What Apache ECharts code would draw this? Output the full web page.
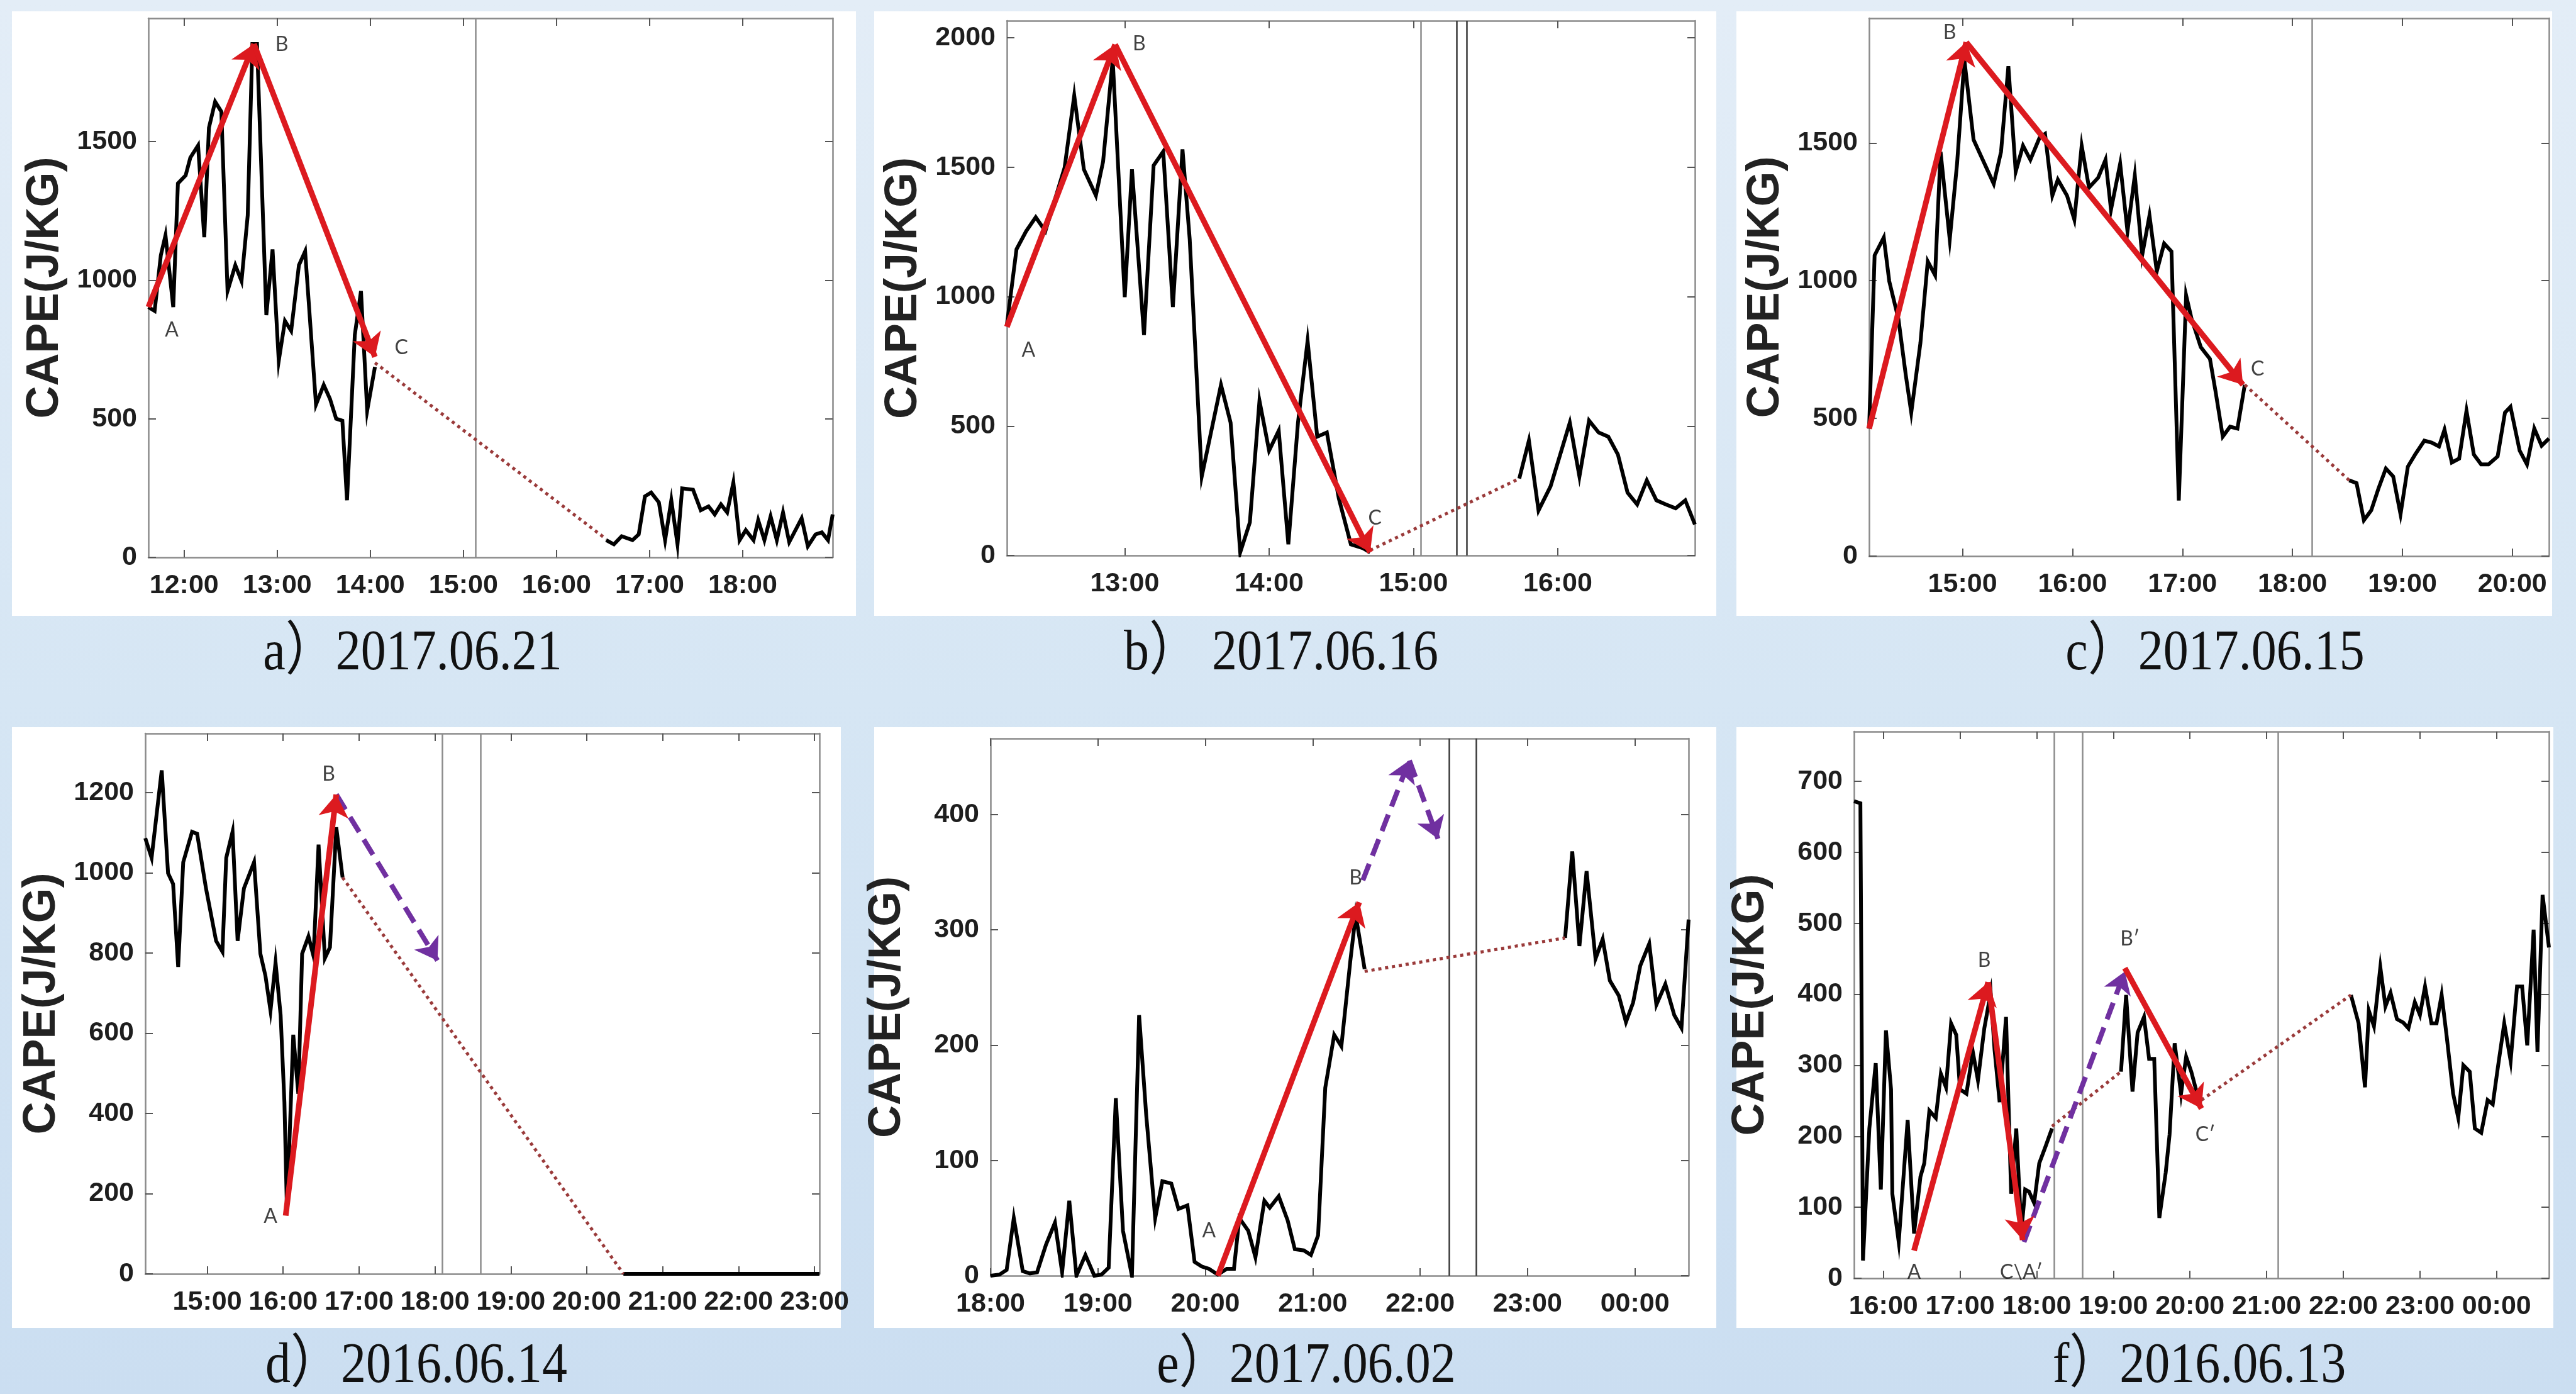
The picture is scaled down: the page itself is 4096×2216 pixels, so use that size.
<!DOCTYPE html>
<html>
<head>
<meta charset="utf-8">
<title>CAPE</title>
<script src="https://cdn.jsdelivr.net/npm/echarts@6/dist/echarts.min.js"></script>
<style>
  html, body { margin: 0; padding: 0; }
  body { background: linear-gradient(#e3edf7 0%, #d6e6f4 50%, #cbdef1 100%); }
  #chart { width: 4096px; height: 2216px; }
</style>
</head>
<body>
<div id="chart"></div>
<script>
// a) 2017.06.21
var aTime1 = ['11:37','11:41','11:45','11:48','11:53','11:56','12:01','12:04','12:09','12:13','12:16','12:20','12:24','12:28','12:33','12:37','12:41','12:44','12:47','12:53','12:57','13:01','13:05','13:09','13:14','13:18','13:25','13:30','13:34','13:38','13:42','13:45','13:50','13:54','13:58','14:03'];
var aCape1 = [903,889,1090,1162,903,1349,1378,1442,1486,1155,1550,1644,1608,961,1054,997,1234,1852,1852,874,1111,709,853,817,1054,1104,551,622,572,500,493,206,802,961,529,687];
var aTime2 = ['16:32','16:37','16:42','16:49','16:53','16:57','17:01','17:06','17:10','17:14','17:18','17:21','17:28','17:33','17:38','17:42','17:46','17:50','17:54','17:58','18:02','18:07','18:10','18:14','18:18','18:22','18:26','18:30','18:38','18:42','18:47','18:51','18:55','18:58'];
var aCape2 = [62,47,76,62,83,220,234,198,62,206,47,249,244,170,184,155,191,162,270,62,98,62,134,62,148,62,162,55,141,40,83,90,62,155];
var aArrows = [['11:37',903,'12:45',1852],['12:45',1852,'14:03',723]];
var aDotted = [['14:03',702,'16:32',66]];
var aVLines = ['15:08'];
var aLabelText = ['A','B','C'];
var aLabelTime = ['11:52','13:03','14:20'];
var aLabelCape = [820,1850,756];

// b) 2017.06.16
var bTime1 = ['12:11','12:15','12:19','12:23','12:27','12:35','12:39','12:43','12:48','12:51','12:55','13:00','13:03','13:08','13:12','13:16','13:20','13:24','13:27','13:32','13:40','13:44','13:48','13:52','13:56','14:00','14:04','14:08','14:12','14:16','14:20','14:24','14:29','14:34','14:39','14:42'];
var bCape1 = [891,1183,1253,1307,1253,1499,1777,1492,1391,1522,1915,998,1492,852,1507,1561,960,1569,1222,305,659,513,12,128,598,405,482,43,513,829,459,475,220,43,28,12];
var bTime2 = ['15:44','15:48','15:52','15:57','16:00','16:05','16:09','16:13','16:17','16:21','16:25','16:29','16:33','16:37','16:41','16:45','16:49','16:53','16:57'];
var bCape2 = [297,444,174,267,359,513,305,521,475,459,390,243,197,290,213,197,182,213,120];
var bArrows = [['12:11',883,'12:56',1974],['12:56',1974,'14:42',12]];
var bDotted = [['14:42',20,'15:44',297]];
var bVLines = ['15:03'];
var bVLinesDark = ['15:18','15:22'];
var bLabelText = ['A','B','C'];
var bLabelTime = ['12:20','13:06','14:44'];
var bLabelCape = [794,1977,143];

// c) 2017.06.15
var cTime1 = ['14:09','14:12','14:17','14:20','14:25','14:29','14:32','14:37','14:41','14:45','14:48','14:53','14:57','15:01','15:06','15:11','15:17','15:21','15:25','15:29','15:33','15:37','15:42','15:45','15:49','15:52','15:57','16:01','16:05','16:09','16:14','16:18','16:21','16:26','16:30','16:34','16:38','16:42','16:46','16:50','16:54','16:58','17:02','17:05','17:10','17:15','17:18','17:22','17:26','17:30','17:34'];
var cCape1 = [463,1092,1157,998,861,658,521,774,1070,1020,1468,1150,1425,1801,1512,1439,1352,1468,1779,1396,1490,1439,1519,1533,1309,1367,1309,1222,1490,1338,1374,1439,1258,1425,1179,1382,1092,1237,1034,1135,1106,202,947,861,759,716,600,434,470,463,622];
var cTime2 = ['18:31','18:35','18:39','18:43','18:47','18:51','18:55','18:59','19:03','19:07','19:12','19:16','19:20','19:23','19:27','19:31','19:35','19:39','19:43','19:47','19:52','19:56','19:59','20:04','20:08','20:12','20:16','20:20'];
var cCape2 = [275,265,130,166,246,318,289,152,325,369,419,412,398,459,340,354,528,369,333,333,362,521,542,383,333,463,401,427];
var cArrows = [['14:09',463,'15:02',1866],['15:02',1866,'17:33',622]];
var cDotted = [['17:34',622,'18:31',275]];
var cVLines = ['18:11'];
var cLabelText = ['A','B','C'];
var cLabelTime = ['14:01','14:53','17:41'];
var cLabelCape = [386,1902,680];

// d) 2016.06.14
var dTime1 = ['14:11','14:16','14:24','14:29','14:33','14:37','14:41','14:48','14:52','14:59','15:07','15:12','15:15','15:20','15:24','15:29','15:37','15:42','15:46','15:50','15:54','15:58','16:01','16:03','16:08','16:12','16:15','16:20','16:24','16:28','16:33','16:37','16:42','16:47'];
var dCape1 = [1086,1037,1255,999,972,765,1026,1102,1097,961,830,803,1037,1102,830,961,1026,798,743,656,776,645,428,157,596,449,798,841,792,1070,787,814,1113,988];
var dTime2 = ['20:29','21:00','21:30','22:00','22:30','23:04'];
var dCape2 = [0,0,0,0,0,0];
var dArrows = [['16:02',145,'16:42',1195]];
var dDashed = [['16:42',1195,'18:02',781]];
var dDotted = [['16:47',988,'20:29',0]];
var dVLines = ['18:06','18:36'];
var dLabelText = ['A','B'];
var dLabelTime = ['15:50','16:36'];
var dLabelCape = [143,1246];

// e) 2017.06.02
var eTime1 = ['18:00','18:05','18:09','18:13','18:18','18:22','18:26','18:31','18:36','18:40','18:44','18:48','18:53','18:58','19:02','19:06','19:10','19:14','19:19','19:23','19:27','19:32','19:36','19:41','19:45','19:50','19:54','19:58','20:02','20:07','20:12','20:16','20:19','20:24','20:28','20:33','20:36','20:41','20:46','20:50','20:55','20:59','21:03','21:07','21:12','21:16','21:21','21:24','21:29'];
var eCape1 = [0,1,5,50,4,2,3,27,46,3,65,0,18,0,1,7,154,39,0,226,139,50,82,80,58,61,12,8,6,1,6,6,50,39,16,65,59,69,48,23,22,18,35,163,209,199,273,313,266];
var eTime2 = ['23:21','23:25','23:29','23:33','23:38','23:42','23:46','23:51','23:55','23:59','00:03','00:08','00:12','00:17','00:22','00:26','00:30'];
var eCape2 = [293,368,286,351,275,292,256,243,220,237,269,288,235,253,226,215,309];
var eArrows = [['20:07',0,'21:26',324]];
var eDashed = [['21:28',343,'21:54',447],['21:54',447,'22:10',379]];
var eDotted = [['21:29',264,'23:21',293]];
var eVLinesDark = ['22:16','22:31'];
var eLabelText = ['A','B'];
var eLabelTime = ['20:02','21:24'];
var eLabelCape = [39,345];

// f) 2016.06.13
var fTime1 = ['15:37','15:42','15:44','15:49','15:54','15:58','16:02','16:06','16:07','16:12','16:19','16:24','16:29','16:32','16:36','16:41','16:45','16:49','16:53','16:57','17:00','17:05','17:10','17:14','17:19','17:24','17:27','17:31','17:36','17:40','17:44','17:48','17:51','17:54','17:58','18:02','18:07','18:12'];
var fCape1 = [672,669,25,211,303,125,349,266,119,51,223,63,143,162,236,226,288,269,359,343,266,260,319,279,352,402,322,248,368,119,211,66,125,122,106,162,186,211];
var fTime2 = ['19:06','19:10','19:15','19:19','19:24','19:28','19:32','19:36','19:41','19:44','19:48','19:53','19:57','20:01','20:06'];
var fCape2 = [291,399,263,346,368,309,309,85,149,202,331,260,312,291,257];
var fTime3 = ['22:06','22:12','22:17','22:20','22:24','22:29','22:33','22:37','22:42','22:47','22:51','22:56','23:00','23:04','23:09','23:13','23:17','23:21','23:26','23:30','23:34','23:39','23:43','23:48','23:53','23:57','00:01','00:06','00:11','00:16','00:20','00:24','00:29','00:32','00:36','00:41'];
var fCape3 = [399,359,269,377,355,438,383,402,365,360,352,389,371,411,359,359,399,340,260,226,300,291,211,205,251,245,297,359,306,411,411,328,491,319,540,466];
var fArrows = [['16:24',39,'17:22',417],['17:22',417,'17:49',54],['19:09',437,'20:09',239]];
var fDashed = [['17:50',51,'19:09',432]];
var fDotted = [['18:12',214,'19:06',291],['20:09',251,'22:06',399]];
var fVLines = ['18:14','18:36','21:09'];
var fLabelText = ['A','B','C\\A\u2032','B\u2032','C\u2032'];
var fLabelTime = ['16:24','17:19','17:48','19:13','20:12'];
var fLabelCape = [8,448,8,478,202];

// axis ticks
var aHours = [12,13,14,15,16,17,18], aCapeTicks = [0,500,1000,1500];
var bHours = [13,14,15,16], bCapeTicks = [0,500,1000,1500,2000];
var cHours = [15,16,17,18,19,20], cCapeTicks = [0,500,1000,1500];
var dHours = [15,16,17,18,19,20,21,22,23], dCapeTicks = [0,200,400,600,800,1000,1200];
var eHours = [18,19,20,21,22,23,24], eCapeTicks = [0,100,200,300,400];
var fHours = [16,17,18,19,20,21,22,23,24], fCapeTicks = [0,100,200,300,400,500,600,700];

var captions = ['a\uff092017.06.21','b\uff09 2017.06.16','c\uff092017.06.15','d\uff092016.06.14','e\uff092017.06.02','f\uff092016.06.13'];

function hr(s) {
    var p = s.split(':');
    var v = +p[0] + p[1] / 60;
    return v < 6 ? v + 24 : v;   // after midnight
}
function pairs(t, v) {
    return t.map(function (s, i) { return [hr(s), v[i]]; });
}
function hhmm(v) {
    var h = Math.round(v) % 24;
    return (h < 10 ? '0' : '') + h + ':00';
}
function plain(v) { return String(v); }
function seg(list) {
    return list.map(function (a) { return { coords: [[hr(a[0]), a[1]], [hr(a[2]), a[3]]] }; });
}
function labels(txt, t, v) {
    return txt.map(function (s, i) { return { name: s, value: [hr(t[i]), v[i]] }; });
}

var panels = [
    { grid: [236, 29, 1088, 857], box: [19, 18, 1342, 961], x: ['11:37', '18:58'], yMax: 1945,
      hours: aHours, ticks: aCapeTicks, lines: [pairs(aTime1, aCape1), pairs(aTime2, aCape2)],
      arrows: aArrows, dashed: [], dotted: aDotted, vGray: aVLines, vDark: [],
      labels: labels(aLabelText, aLabelTime, aLabelCape), cap: [656, 1040] },
    { grid: [1601, 33, 1094, 850], box: [1390, 18, 1339, 961], x: ['12:11', '16:57'], yMax: 2066,
      hours: bHours, ticks: bCapeTicks, lines: [pairs(bTime1, bCape1), pairs(bTime2, bCape2)],
      arrows: bArrows, dashed: [], dotted: bDotted, vGray: bVLines, vDark: bVLinesDark,
      labels: labels(bLabelText, bLabelTime, bLabelCape), cap: [2037, 1040] },
    { grid: [2972, 29, 1081, 855], box: [2761, 18, 1297, 961], x: ['14:09', '20:20'], yMax: 1953,
      hours: cHours, ticks: cCapeTicks, lines: [pairs(cTime1, cCape1), pairs(cTime2, cCape2)],
      arrows: cArrows, dashed: [], dotted: cDotted, vGray: cVLines, vDark: [],
      labels: labels(cLabelText, cLabelTime, cLabelCape), cap: [3522, 1040] },
    { grid: [231, 1166, 1072, 859], box: [19, 1156, 1318, 955], x: ['14:11', '23:04'], yMax: 1347,
      hours: dHours, ticks: dCapeTicks, lines: [pairs(dTime1, dCape1), pairs(dTime2, dCape2)],
      arrows: dArrows, dashed: dDashed, dotted: dDotted, vGray: dVLines, vDark: [],
      labels: labels(dLabelText, dLabelTime, dLabelCape), cap: [662, 2173] },
    { grid: [1575, 1174, 1110, 854], box: [1390, 1156, 1339, 955], x: ['18:00', '00:30'], yMax: 466,
      hours: eHours, ticks: eCapeTicks, lines: [pairs(eTime1, eCape1), pairs(eTime2, eCape2)],
      arrows: eArrows, dashed: eDashed, dotted: eDotted, vGray: [], vDark: eVLinesDark,
      labels: labels(eLabelText, eLabelTime, eLabelCape), cap: [2077, 2173] },
    { grid: [2948, 1163, 1105, 869], box: [2761, 1156, 1299, 955], x: ['15:37', '00:41'], yMax: 770,
      hours: fHours, ticks: fCapeTicks, lines: [pairs(fTime1, fCape1), pairs(fTime2, fCape2), pairs(fTime3, fCape3)],
      arrows: fArrows, dashed: fDashed, dotted: fDotted, vGray: fVLines, vDark: [],
      labels: labels(fLabelText, fLabelTime, fLabelCape), cap: [3497, 2173] }
];

var SANS = '"Liberation Sans", Arial, sans-serif';
var axisLine = { show: true, onZero: false, lineStyle: { color: '#8a8a8a', width: 2.5 } };

var grids = [], xAxes = [], yAxes = [], series = [], graphic = [];

panels.forEach(function (p, i) {
    grids.push({ left: p.grid[0], top: p.grid[1], width: p.grid[2], height: p.grid[3] });
    graphic.push({ type: 'rect', z: -10, silent: true,
        shape: { x: p.box[0], y: p.box[1], width: p.box[2], height: p.box[3] },
        style: { fill: '#ffffff' } });
    graphic.push({ type: 'text', x: p.cap[0], y: p.cap[1], scaleY: 1.15, silent: true,
        style: { text: captions[i], font: '80px "Liberation Serif", "Noto Sans CJK SC", serif',
                 fill: '#111', textAlign: 'center', textVerticalAlign: 'middle' } });

    var xmin = hr(p.x[0]), xmax = hr(p.x[1]);
    [false, true].forEach(function (mirror) {
        xAxes.push({
            gridIndex: i, type: 'value', min: xmin, max: xmax,
            position: mirror ? 'top' : 'bottom',
            axisLine: axisLine,
            axisTick: { inside: true, length: 12, customValues: p.hours, lineStyle: { color: '#555', width: 2 } },
            axisLabel: { show: !mirror, customValues: p.hours, formatter: hhmm, margin: 24,
                         fontFamily: SANS, fontSize: 43, fontWeight: 'bold', color: '#1e1e1e' },
            splitLine: { show: false }
        });
        yAxes.push({
            gridIndex: i, type: 'value', min: 0, max: p.yMax,
            position: mirror ? 'right' : 'left',
            name: mirror ? '' : 'CAPE(J/KG)', nameLocation: 'middle', nameGap: 128,
            nameTextStyle: { fontFamily: SANS, fontSize: 72, fontWeight: 'bold', color: '#222' },
            axisLine: axisLine,
            axisTick: { inside: true, length: 12, customValues: p.ticks, lineStyle: { color: '#555', width: 2 } },
            axisLabel: { show: !mirror, customValues: p.ticks, formatter: plain, margin: 18,
                         fontFamily: SANS, fontSize: 43, fontWeight: 'bold', color: '#1e1e1e' },
            splitLine: { show: false }
        });
    });
    var xi = 2 * i, yi = 2 * i;

    var marks = p.vGray.map(function (t) { return { xAxis: hr(t), lineStyle: { color: '#8c8c8c', width: 2.5, type: 'solid' } }; })
        .concat(p.vDark.map(function (t) { return { xAxis: hr(t), lineStyle: { color: '#3a3a3a', width: 2.5, type: 'solid' } }; }));

    p.lines.forEach(function (d, k) {
        series.push({
            type: 'line', xAxisIndex: xi, yAxisIndex: yi, data: d, showSymbol: false, z: 3,
            lineStyle: { color: '#000', width: 6, join: 'miter' },
            markLine: k === 0 ? { silent: true, symbol: 'none', label: { show: false }, data: marks } : undefined
        });
    });
    series.push({
        type: 'lines', coordinateSystem: 'cartesian2d', xAxisIndex: xi, yAxisIndex: yi, z: 5,
        data: seg(p.dotted), symbol: 'none',
        lineStyle: { color: '#9a3a3a', width: 5, type: [5, 6], opacity: 1 }
    });
    series.push({
        type: 'lines', coordinateSystem: 'cartesian2d', xAxisIndex: xi, yAxisIndex: yi, z: 6,
        data: seg(p.dashed), symbol: ['none', 'arrow'], symbolSize: [34, 34],
        lineStyle: { color: '#7030a0', width: 8, type: [28, 14], opacity: 1 }
    });
    series.push({
        type: 'lines', coordinateSystem: 'cartesian2d', xAxisIndex: xi, yAxisIndex: yi, z: 7,
        data: seg(p.arrows), symbol: ['none', 'arrow'], symbolSize: [38, 36],
        lineStyle: { color: '#dc1a1f', width: 9, opacity: 1 }
    });
    series.push({
        type: 'scatter', xAxisIndex: xi, yAxisIndex: yi, z: 8, symbolSize: 0, data: p.labels,
        label: { show: true, position: 'inside', formatter: '{b}',
                 fontFamily: 'Lato, "Open Sans", sans-serif', fontSize: 32, color: '#111' }
    });
});

var chart = echarts.init(document.getElementById('chart'));
chart.setOption({
    animation: false,
    backgroundColor: 'transparent',
    grid: grids,
    xAxis: xAxes,
    yAxis: yAxes,
    graphic: graphic,
    series: series
});
</script>
</body>
</html>
